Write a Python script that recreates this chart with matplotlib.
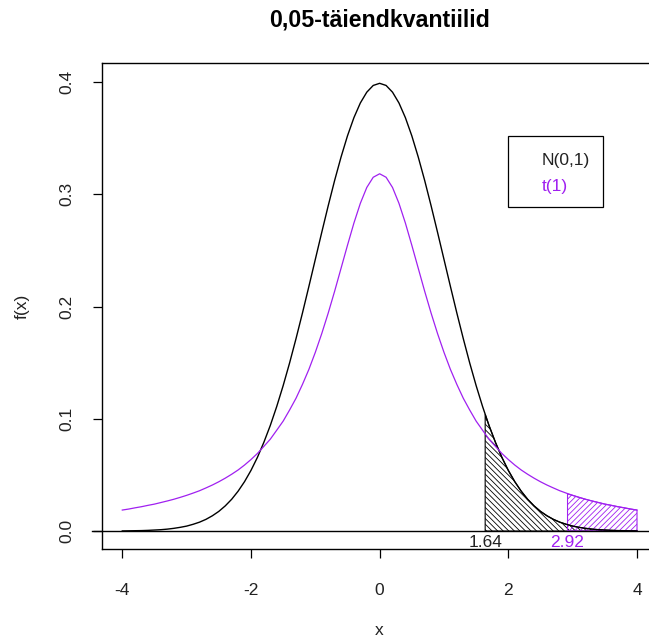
import numpy as np
import matplotlib
matplotlib.use("Agg")
from matplotlib import pyplot as plt
from matplotlib.patches import Polygon, Rectangle

plt.rcParams['font.family'] = ['Liberation Sans', 'DejaVu Sans']
plt.rcParams['hatch.linewidth'] = 0.6

# x punktid, kus kõveraid loeti (samm 0.1)
x = [-4.0, -3.9, -3.8, -3.7, -3.6, -3.5, -3.4, -3.3, -3.2, -3.1,
     -3.0, -2.9, -2.8, -2.7, -2.6, -2.5, -2.4, -2.3, -2.2, -2.1,
     -2.0, -1.9, -1.8, -1.7, -1.6, -1.5, -1.4, -1.3, -1.2, -1.1,
     -1.0, -0.9, -0.8, -0.7, -0.6, -0.5, -0.4, -0.3, -0.2, -0.1,
     0.0, 0.1, 0.2, 0.3, 0.4, 0.5, 0.6, 0.7, 0.8, 0.9,
     1.0, 1.1, 1.2, 1.3, 1.4, 1.5, 1.6, 1.7, 1.8, 1.9,
     2.0, 2.1, 2.2, 2.3, 2.4, 2.5, 2.6, 2.7, 2.8, 2.9,
     3.0, 3.1, 3.2, 3.3, 3.4, 3.5, 3.6, 3.7, 3.8, 3.9, 4.0]

# N(0,1) tihedus
f_norm = [0.0001, 0.0002, 0.0003, 0.0004, 0.0006, 0.0009, 0.0012, 0.0017, 0.0024, 0.0033,
          0.0044, 0.0060, 0.0079, 0.0104, 0.0136, 0.0175, 0.0224, 0.0283, 0.0355, 0.0440,
          0.0540, 0.0656, 0.0790, 0.0940, 0.1109, 0.1295, 0.1497, 0.1714, 0.1942, 0.2179,
          0.2420, 0.2661, 0.2897, 0.3123, 0.3332, 0.3521, 0.3683, 0.3814, 0.3910, 0.3970,
          0.3989, 0.3970, 0.3910, 0.3814, 0.3683, 0.3521, 0.3332, 0.3123, 0.2897, 0.2661,
          0.2420, 0.2179, 0.1942, 0.1714, 0.1497, 0.1295, 0.1109, 0.0940, 0.0790, 0.0656,
          0.0540, 0.0440, 0.0355, 0.0283, 0.0224, 0.0175, 0.0136, 0.0104, 0.0079, 0.0060,
          0.0044, 0.0033, 0.0024, 0.0017, 0.0012, 0.0009, 0.0006, 0.0004, 0.0003, 0.0002, 0.0001]

# t(1) tihedus
f_t = [0.0187, 0.0196, 0.0207, 0.0217, 0.0229, 0.0240, 0.0254, 0.0268, 0.0283, 0.0300,
       0.0318, 0.0338, 0.0359, 0.0384, 0.0410, 0.0439, 0.0471, 0.0506, 0.0544, 0.0588,
       0.0637, 0.0691, 0.0754, 0.0818, 0.0898, 0.0979, 0.1078, 0.1183, 0.1306, 0.1440,
       0.1592, 0.1759, 0.1941, 0.2136, 0.2341, 0.2546, 0.2744, 0.2920, 0.3061, 0.3152,
       0.3183, 0.3152, 0.3061, 0.2920, 0.2744, 0.2546, 0.2341, 0.2136, 0.1941, 0.1759,
       0.1592, 0.1440, 0.1306, 0.1183, 0.1078, 0.0979, 0.0898, 0.0818, 0.0754, 0.0691,
       0.0637, 0.0588, 0.0544, 0.0506, 0.0471, 0.0439, 0.0410, 0.0384, 0.0359, 0.0338,
       0.0318, 0.0300, 0.0283, 0.0268, 0.0254, 0.0240, 0.0229, 0.0217, 0.0207, 0.0196, 0.0187]

# kvantiilid ja tiheduse väärtus seal
q_norm = 1.64
fq_norm = 0.104
q_t = 2.92
fq_t = 0.033

labels = ['N(0,1)', 't(1)']
purple = '#A020F0'
txtcol = '#222222'

fig = plt.figure(figsize=(6.49, 6.39), dpi=100)
ax = fig.add_axes([101.7 / 649, 90 / 639, 555.9 / 649, 486 / 639])

ax.plot(x, f_norm, color='black', lw=1.0)
ax.plot(x, f_t, color=purple, lw=0.9)
ax.plot([-4.47, 4.6], [0, 0], color='black', lw=1.0, clip_on=False)

# varjutatud sabad
def tail(q, fq, xs, ys):
    pts = [(q, 0), (q, fq)]
    for a, b in zip(xs, ys):
        if a > q:
            pts.append((a, b))
    pts.append((xs[-1], 0))
    return pts

ax.add_patch(Polygon(tail(q_norm, fq_norm, x, f_norm), closed=True,
                     facecolor='none', edgecolor='black', hatch='\\\\\\\\\\\\', lw=0.8))
ax.add_patch(Polygon(tail(q_t, fq_t, x, f_t), closed=True,
                     facecolor='none', edgecolor=purple, hatch='//////', lw=0.8))

ax.text(q_norm, -0.0105, '1.64', ha='center', va='center', fontsize=12.5, color=txtcol)
ax.text(q_t, -0.0105, '2.92', ha='center', va='center', fontsize=12.5, color=purple)

ax.set_xlim(-4.32, 4.32)
ax.set_ylim(-0.016, 0.417)
ax.set_xticks([-4, -2, 0, 2, 4])
ax.set_xticklabels(['-4', '-2', '0', '2', '4'])
ax.set_yticks([0.0, 0.1, 0.2, 0.3, 0.4])
ax.set_yticklabels(['0.0', '0.1', '0.2', '0.3', '0.4'], rotation=90, va='center')
ax.tick_params(length=6.5, width=0.9, labelsize=12.5, labelcolor=txtcol)
ax.tick_params(axis='x', pad=18)
ax.tick_params(axis='y', pad=13)

ax.set_xlabel('x', fontsize=12.5, color=txtcol, va='center')
ax.xaxis.set_label_coords(0.5, -0.167)
ax.set_ylabel('f(x)', fontsize=12.5, color=txtcol, va='center')
ax.yaxis.set_label_coords(-0.143, 0.5)

ax.set_title('0,05-täiendkvantiilid', fontsize=16.7, fontweight='bold', pad=26)

# legend käsitsi, nagu R-is
ax.add_patch(Rectangle((0.7309, 0.7037), 0.1709, 0.1461, transform=ax.transAxes,
                       facecolor='white', edgecolor='black', lw=0.9, zorder=5))
ax.text(0.7921, 0.7984, labels[0], transform=ax.transAxes, fontsize=12.5,
        color=txtcol, va='center', ha='left', zorder=6)
ax.text(0.7921, 0.7469, labels[1], transform=ax.transAxes, fontsize=12.5,
        color=purple, va='center', ha='left', zorder=6)

for s in ax.spines.values():
    s.set_linewidth(1.0)

fig.savefig('out.png', dpi=100)
